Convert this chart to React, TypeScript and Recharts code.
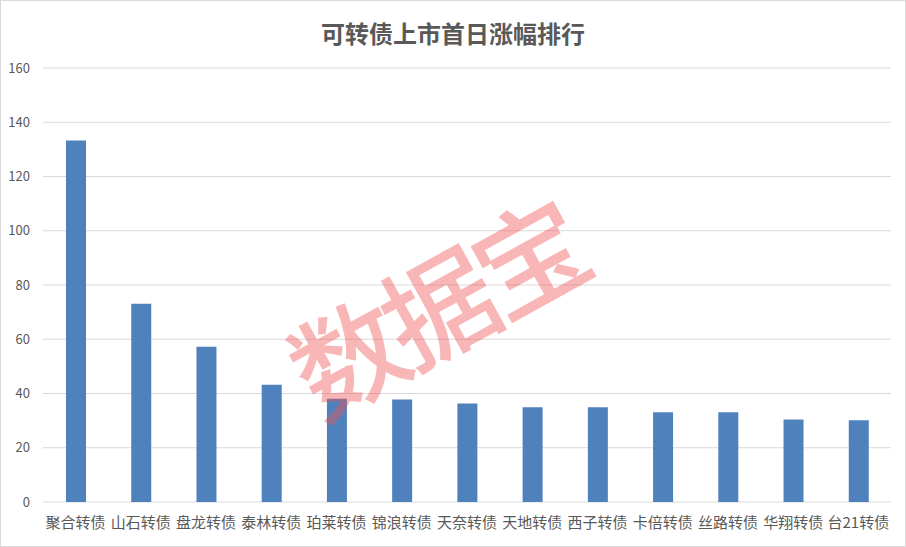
import { BarChart, Bar, XAxis, YAxis, CartesianGrid } from 'recharts'

const bonds = ['聚合转债', '山石转债', '盘龙转债', '泰林转债', '珀莱转债', '锦浪转债', '天奈转债', '天地转债', '西子转债', '卡倍转债', '丝路转债', '华翔转债', '台21转债']
const gains = [133.3, 73.1, 57.2, 43.2, 38.1, 37.8, 36.3, 34.9, 34.9, 33.1, 33.1, 30.4, 30.1]
const yTicks = [0, 20, 40, 60, 80, 100, 120, 140, 160]

const data = bonds.map((name, i) => ({ name, value: gains[i] }))

const FONT = '"Noto Sans CJK SC", "Microsoft YaHei", sans-serif'

export default function App() {
  return (
    <div style={{ position: 'absolute', left: 0, top: 0, width: 906, height: 547, background: '#fff', fontFamily: FONT, boxSizing: 'border-box', border: '1px solid #d9d9d9', overflow: 'hidden' }}>
      <div style={{ position: 'absolute', left: 0, width: 904, top: 16, textAlign: 'center', fontSize: 24, fontWeight: 700, color: '#595959', lineHeight: '32px' }}>
        可转债上市首日涨幅排行
      </div>
      <div style={{ position: 'absolute', left: -1, top: -1 }}>
        <BarChart width={906} height={547} data={data} margin={{ top: 68, right: 15, bottom: 15, left: 0 }} barCategoryGap={0}>
          <CartesianGrid vertical={false} stroke="#d9d9d9" />
          <XAxis dataKey="name" axisLine={false} tickLine={false} tickSize={0} tickMargin={15} height={30} interval={0}
            tick={{ fontSize: 15, fill: '#595959', fontFamily: FONT }} />
          <YAxis domain={[0, 160]} ticks={yTicks} axisLine={false} tickLine={false} tickSize={0} tickMargin={13} width={43}
            tick={{ fontSize: 13, fill: '#595959', fontFamily: FONT }} />
          <Bar dataKey="value" fill="#4f81bd" barSize={20} isAnimationActive={false} />
        </BarChart>
      </div>
      <div style={{ position: 'absolute', left: 432, top: 303, transform: 'translate(-50%, -50%) rotate(-29deg)', fontSize: 112, fontWeight: 500, color: 'rgba(238, 80, 80, 0.42)', whiteSpace: 'nowrap', lineHeight: 1, pointerEvents: 'none', letterSpacing: -8 }}>
        数据宝
      </div>
    </div>
  )
}
